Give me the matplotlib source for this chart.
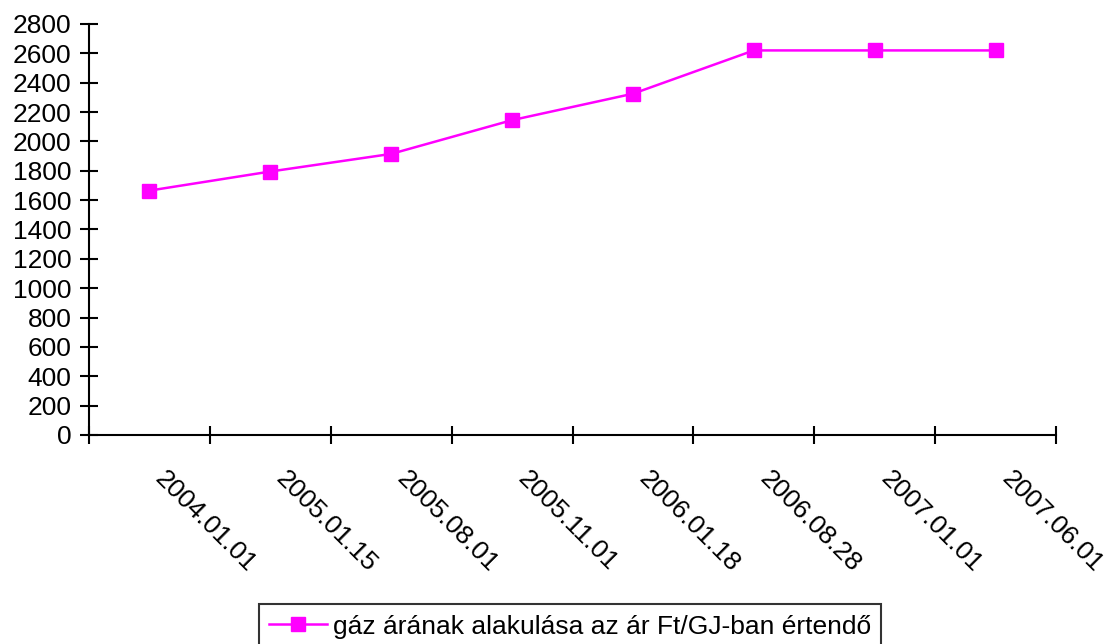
import matplotlib.pyplot as plt
import numpy as np

plt.rcParams['font.family'] = ['Liberation Sans', 'DejaVu Sans']

datumok = ['2004.01.01', '2005.01.15', '2005.08.01', '2005.11.01',
           '2006.01.18', '2006.08.28', '2007.01.01', '2007.06.01']
ar = [1665, 1795, 1915, 2145, 2325, 2620, 2620, 2620]
y_ticks = list(range(0, 2801, 200))

fs = 19

fig = plt.figure(figsize=(11.09, 6.44), dpi=100)
ax = fig.add_axes([89 / 1109, 1 - 435 / 644, (1056 - 89) / 1109, (435 - 24) / 644])

x = np.arange(len(datumok))
line, = ax.plot(x, ar, color='#FF00FF', linewidth=1.8, marker='s', markersize=10,
                markerfacecolor='#FF00FF', markeredgecolor='#FF00FF',
                label='gáz árának alakulása az ár Ft/GJ-ban értendő')

ax.set_xlim(-0.5, len(datumok) - 0.5)
ax.set_ylim(0, 2800)
ax.set_yticks(y_ticks)
ax.tick_params(axis='y', labelsize=fs, direction='inout', length=13, width=1.5, pad=6)

# category boundaries as ticks, labels written at the centers
ax.set_xticks(np.arange(-0.5, len(datumok), 1.0))
ax.set_xticklabels([])
ax.tick_params(axis='x', direction='inout', length=13, width=1.5)
for i, d in enumerate(datumok):
    ax.annotate(d, xy=(i, 0), xycoords=('data', 'axes fraction'),
                xytext=(18, -32), textcoords='offset pixels',
                rotation=-45, ha='left', va='top', rotation_mode='anchor',
                fontsize=fs)

for s in ['top', 'right']:
    ax.spines[s].set_visible(False)
for s in ['left', 'bottom']:
    ax.spines[s].set_linewidth(1.5)

leg = fig.legend(handles=[line], loc='upper center', bbox_to_anchor=(570 / 1109, 1 - 604 / 644),
                 fontsize=fs, frameon=True, fancybox=False, handlelength=2.2,
                 handletextpad=0.2, borderpad=0.4, borderaxespad=0)
leg.get_frame().set_edgecolor('black')
leg.get_frame().set_linewidth(1.5)

fig.savefig('out.png', dpi=100)
